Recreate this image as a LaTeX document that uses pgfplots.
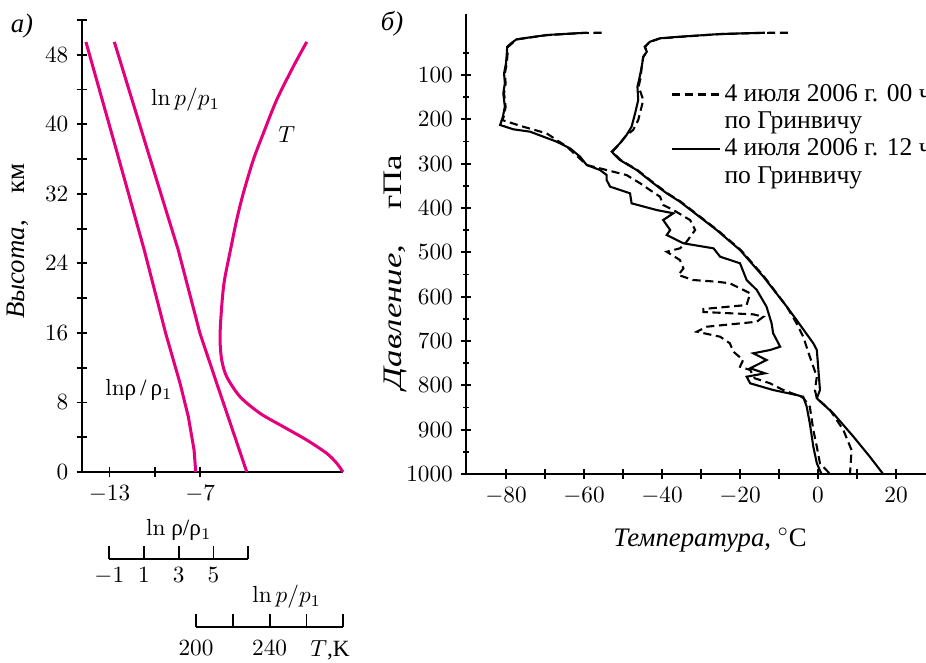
\documentclass[border=0pt]{standalone}
\usepackage[no-math]{fontspec}
\setmainfont{Liberation Serif}
\usepackage{pgfplots}
\pgfplotsset{compat=1.18}
\definecolor{mag}{RGB}{228,0,124}

\begin{document}
\begin{tikzpicture}
\useasboundingbox (0,0) rectangle (398.18pt,-284.66pt);

% panel a
\begin{axis}[
  at={(35.26pt,-202.96pt)}, anchor=south west,
  scale only axis, width=112.23pt, height=194.36pt,
  xmin=-14.82, xmax=2.46, ymin=0, ymax=52,
  axis lines=left, axis line style={-, line width=0.9pt},
  xtick={-13,-10,-7}, xticklabels={$-13$,,$-7$},
  ytick={0,8,...,48}, minor ytick={4,12,...,52},
  tick align=center, major tick length=4.7pt, minor tick length=4.7pt,
  tick style={line width=0.8pt, black},
  clip=false,
  ylabel={\fontsize{11.5}{13}\selectfont\textit{Высота},\quad км},
  ylabel style={at={(axis description cs:-0.245,0.511)}, anchor=center},
]
\addplot[mag, line width=1.3pt] coordinates {
  (-14.56,49.48) (-12.62,37.51) (-10.70,25.55) (-9.28,15.96)
  (-8.33,10.21) (-7.78,6.36) (-7.40,2.53) (-7.29,0)
};
\addplot[mag, line width=1.3pt] coordinates {
  (-12.68,49.48) (-10.57,37.51) (-8.45,25.55) (-7.01,15.96)
  (-5.90,10.21) (-3.91,0)
};
\addplot[mag, line width=1.3pt, smooth] coordinates {
  (0.06,49.48) (-0.83,46.64) (-1.93,42.81) (-2.81,38.98) (-3.48,35.90)
  (-4.14,32.07) (-4.58,29.00) (-4.99,25.55) (-5.42,21.71) (-5.62,17.87)
  (-5.68,15.19) (-5.57,12.89) (-5.24,10.97) (-4.36,8.67) (-3.03,6.75)
  (-1.49,5.21) (0.06,3.68) (1.38,2.15) (2.05,1.00) (2.46,0)
};
\node[anchor=west] at (axis cs:-10.78,42.8) {$\ln p/p_1$};
\node at (axis cs:-1.27,38.8) {$T$};
\node at (axis cs:-11.05,9.44) {$\ln$ρ\,/\,ρ$_1$};
\node at (axis description cs:-0.23,0.987) {\fontsize{11.5}{13}\selectfont\textit{а)}};
\end{axis}

% scale ln rho
\begin{axis}[
  at={(47.0pt,-240.37pt)}, anchor=south west,
  scale only axis, width=59.77pt, height=1pt,
  xmin=-1, xmax=7, ymin=0, ymax=1,
  axis x line=bottom, axis y line=none, axis line style={-, line width=0.9pt},
  xtick={-1,1,...,7}, xticklabels={$-1$,$1$,$3$,$5$,},
  tick align=inside, major tick length=5.6pt, tick style={line width=0.8pt, black},
  clip=false,
]
\node[anchor=base] at (axis cs:3,0) [yshift=9.9pt] {$\ln$ ρ/ρ$_1$};
\end{axis}

% scale ln p
\begin{axis}[
  at={(84.28pt,-269.48pt)}, anchor=south west,
  scale only axis, width=63.34pt, height=1pt,
  xmin=200, xmax=280, ymin=0, ymax=1,
  axis x line=bottom, axis y line=none, axis line style={-, line width=0.9pt},
  xtick={200,220,...,280}, xticklabels={$200$,,$240$,,},
  xticklabel style={yshift=-2.6pt},
  tick align=inside, major tick length=5.6pt, tick style={line width=0.8pt, black},
  clip=false,
]
\node[anchor=base] at (axis cs:249.3,0) [yshift=10.3pt] {$\ln p/p_1$};
\node[anchor=north, inner sep=0.333em, yshift=-2.6pt] at (axis cs:272.8,0) {$T$,K};
\end{axis}

% panel b
\begin{axis}[
  at={(200.38pt,-203.82pt)}, anchor=south west,
  scale only axis, width=210.06pt, height=197.80pt,
  xmin=-90.26, xmax=35, ymin=-37.6, ymax=1000, y dir=reverse,
  axis lines=left, axis line style={-, line width=0.9pt},
  xtick={-80,-70,...,30}, xticklabels={$-80$,,$-60$,,$-40$,,$-20$,,$0$,,$20$,},
  ytick={100,200,...,1000}, minor ytick={50,150,...,950},
  tick align=center, major tick length=4.3pt, minor tick length=2.2pt,
  tick style={line width=0.8pt, black},
  /pgf/number format/1000 sep={},
  clip=false,
  xlabel={\fontsize{11.5}{13}\selectfont\textit{Температура}, $^\circ$C},
  xlabel style={at={(axis description cs:0.4995,-0.1435)}, anchor=center},
  ylabel={\fontsize{11.5}{13}\selectfont\scalebox{1.3}[1]{\textit{Давление},\quad гПа}},
  ylabel style={at={(axis description cs:-0.145,0.439)}, anchor=center},
  legend cell align=left,
  legend image code/.code={\draw[#1] (0cm,0cm) -- (0.72cm,0cm);},
  legend style={at={(axis description cs:0.405,0.866)}, anchor=north west,
    draw=none, fill=none, font=\fontsize{11}{12}\selectfont,
    nodes={inner sep=1.5pt}},
]
\addplot[black, line width=0.9pt, dash pattern=on 3.5pt off 2pt] coordinates {
  (-7.7,4.6) (-13.6,4.8) (-25.1,7.7) (-35.4,13.9) (-40.5,17.5) (-43.1,25.2)
  (-44.4,36.5) (-43.9,47.7) (-44.8,59) (-45.2,81.6) (-45.5,107) (-46.0,126)
  (-44.8,156.4) (-46.1,201.5) (-47.4,224.1) (-49.1,235.6) (-50.8,254.4)
  (-52.7,273.0) (-50.6,291.7) (-46.3,314.3) (-42.0,344.3) (-38.6,366.8)
  (-35.2,385.8) (-25.8,449.6) (-19.8,494.7) (-13.8,554.9) (-8.0,622.6)
  (-5.5,660.1) (-3.8,690.3) (-2.1,735.4) (-0.3,780.5) (-0.8,810.5)
  (-0.3,829.3) (3.1,855.6) (6.5,900.8) (8.6,945.9) (8.2,1000)
};
\addlegendentry{4 июля 2006 г. 00 ч}
\addlegendimage{empty legend}
\addlegendentry{по Гринвичу}
\addplot[black, line width=0.9pt] coordinates {
  (-13.6,4.6) (-25.1,7.5) (-35.4,13.6) (-40.5,17.2) (-43.1,24.9) (-44.4,36.2)
  (-43.9,47.4) (-44.8,58.7) (-45.2,81.3) (-45.8,107.4) (-46.3,126.4)
  (-46.1,156.4) (-46.9,186.4) (-47.8,216.6) (-49.1,235.3) (-50.8,254.1)
  (-52.9,273.0) (-50.8,291.7) (-46.5,314.3) (-42.2,344.3) (-38.8,366.8)
  (-35.4,385.8) (-26.0,449.6) (-20.0,494.7) (-14.0,554.9) (-8.0,622.6)
  (-5.5,652.6) (-1.2,705.2) (-0.3,720.3) (0.1,765.4) (0.5,810.5)
  (-0.3,829.3) (3.9,863.1) (9.1,915.9) (13.3,961.1) (16.7,1000)
};
\addlegendentry{4 июля 2006 г. 12 ч}
\addlegendimage{empty legend}
\addlegendentry{по Гринвичу}
% dew point, 00
\addplot[black, line width=0.9pt, dash pattern=on 3.5pt off 2pt, forget plot] coordinates {
  (-55.5,4.6) (-60,5) (-65.3,7.8) (-69.6,10.2) (-73.8,15.3) (-77.3,19.8)
  (-78.3,27.5) (-79.5,36.5) (-79.6,51.5) (-79.8,74) (-80.3,96.5) (-80.1,119)
  (-80.5,141.5) (-80.1,172) (-80.6,194.5) (-81.0,201.5) (-75.6,216.6)
  (-69.6,231.5) (-64.4,261.7) (-59.3,303) (-52.5,318.1) (-49.1,325.6)
  (-45.6,344.3) (-43.1,359.4) (-40.5,374.5) (-39.7,393.2) (-37.1,404.5)
  (-32.8,427.1) (-31.5,449.6) (-33.7,476.0) (-35.4,490.9) (-38.8,498.6)
  (-35.4,517.3) (-34.5,536.0) (-35.8,551.1) (-32.0,562.4) (-26.0,566.2)
  (-22.6,569.8) (-17.4,592.4) (-18.3,618.8) (-29.4,627.8) (-29.4,634.6)
  (-16.6,639.8) (-14.0,645.2) (-15.7,656.5) (-28.5,667.7) (-31.1,679.0)
  (-25.1,690.3) (-22.6,705.2) (-21.7,724.1) (-19.2,742.8) (-20.0,757.9)
  (-17.4,765.4) (-16.2,784.1) (-12.3,795.4) (-8.9,810.5) (-5.5,821.8)
  (-3.8,828) (-2.1,848.2) (-1.2,900.8) (-0.3,938.5) (0.5,975.9) (3.1,1000)
};
% dew point, 12
\addplot[black, line width=0.9pt, forget plot] coordinates {
  (-59.3,4.6) (-65.3,7.5) (-69.6,9.8) (-73.8,15.0) (-77.3,19.5) (-78.5,27.1)
  (-79.7,36.2) (-79.8,51.1) (-80.0,73.6) (-80.5,96.2) (-80.3,118.7)
  (-80.7,141.3) (-80.3,171.5) (-80.8,194.1) (-81.5,212.8) (-78.1,222.5)
  (-73.8,227.9) (-70.4,239.2) (-67.0,250.4) (-63.6,265.3) (-61.0,284.3)
  (-59.3,303.0) (-55.9,314.3) (-54.2,325.6) (-54.2,336.8) (-53.3,351.9)
  (-48.2,366.8) (-47.8,389.4) (-41.4,404.5) (-37.1,411.9) (-39.7,427.1)
  (-37.9,449.6) (-38.8,460.9) (-34.5,479.6) (-26.8,490.9) (-25.1,509.8)
  (-20.0,524.7) (-18.3,562.4) (-15.7,584.9) (-13.2,622.6) (-11.9,660.1)
  (-11.5,682.6) (-9.7,712.8) (-12.3,720.3) (-16.6,727.7) (-13.2,742.8)
  (-17.4,761.5) (-13.6,772.8) (-18.3,780.5) (-17.4,795.4) (-11.5,810.5)
  (-5.5,821.8) (-3.8,825.6) (-2.9,848.2) (-2.1,885.6) (-1.2,938.5)
  (-0.3,975.9) (0.9,1000)
};
\node at (axis description cs:-0.1515,0.978) {\fontsize{11.5}{13}\selectfont\textit{б)}};
\end{axis}
\end{tikzpicture}
\end{document}
